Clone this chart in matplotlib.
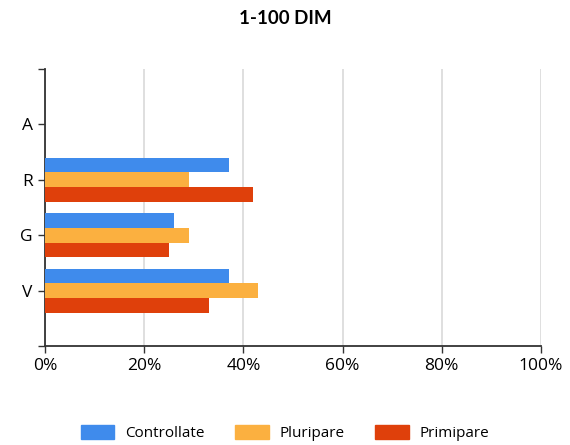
import numpy as np
import matplotlib.pyplot as plt
from matplotlib.patches import Patch

plt.rcParams['font.family'] = ['Open Sans', 'DejaVu Sans']

categories = ['V', 'G', 'R', 'A']
series = ['Controllate', 'Pluripare', 'Primipare']
controllate = [37, 26, 37, 0]
pluripare = [43, 29, 29, 0]
primipare = [33, 25, 42, 0]
colors = ['#3f8bec', '#fbb040', '#df400b']

fig = plt.figure(figsize=(5.7, 4.45), dpi=100)
ax = fig.add_axes([45 / 570, 1 - 346 / 445, 496 / 570, 277 / 445])

y = np.arange(len(categories))
h = 0.265
for vals, off, c in zip([controllate, pluripare, primipare], [h, 0, -h], colors):
    ax.barh(y + off, vals, height=h, color=c, zorder=3)

ax.set_xlim(0, 100)
ax.set_ylim(-1, 4)
ax.set_xticks([0, 20, 40, 60, 80, 100])
ax.set_xticklabels([f'{v}%' for v in [0, 20, 40, 60, 80, 100]], fontsize=12.5)
ax.set_yticks([-1, 0, 1, 2, 3, 4])
ax.set_yticklabels([''] + categories + [''], fontsize=12.5)
ax.grid(axis='x', color='#d9d9d9', linewidth=1.2, zorder=0)
for s in ['top', 'right']:
    ax.spines[s].set_visible(False)
for s in ['left', 'bottom']:
    ax.spines[s].set_color('#333333')
    ax.spines[s].set_linewidth(1.3)
ax.tick_params(axis='both', color='#333333', length=5, width=1, pad=4)

fig.suptitle('1-100 DIM', y=1 - 18 / 445, va='center', fontsize=13.5,
             fontweight='bold', family=['Lato', 'DejaVu Sans'])

handles = [Patch(color=c, label=s) for c, s in zip(colors, series)]
fig.legend(handles=handles, loc='center', bbox_to_anchor=(0.5, 1 - 433 / 445),
           ncol=3, frameon=False, fontsize=11, handlelength=2.2, handleheight=1.1,
           columnspacing=2.0, handletextpad=0.7)

fig.savefig('out.png', dpi=100)
